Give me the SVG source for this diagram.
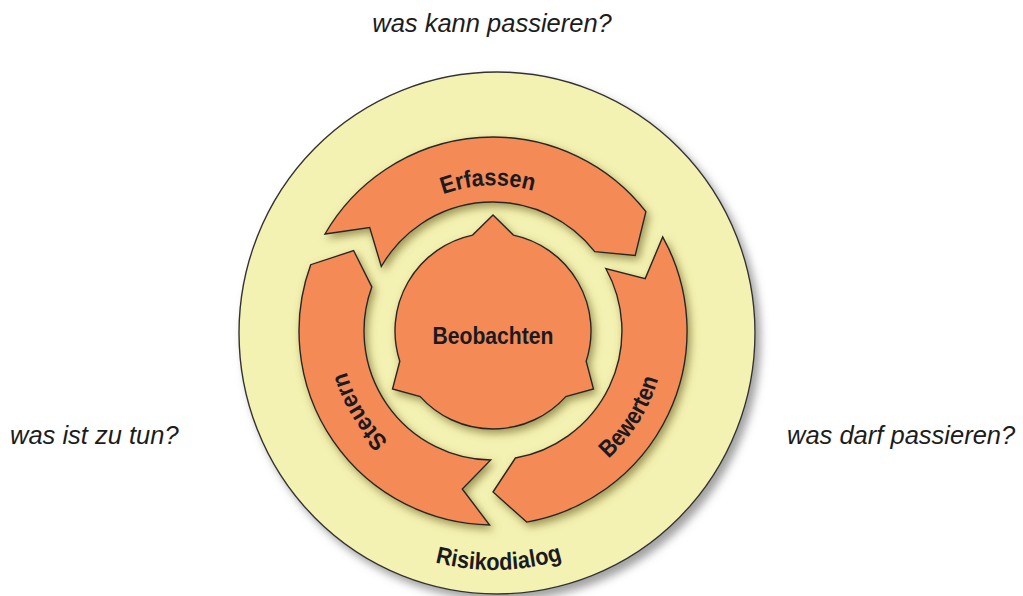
<svg xmlns="http://www.w3.org/2000/svg" width="1023" height="596" viewBox="0 0 1023 596">
  <style>
    .q { font-family: "Liberation Sans", Arial, sans-serif; font-style: italic; font-size: 25.5px; fill: #1c1c1c; }
    .lbl { font-family: "Liberation Sans", Arial, sans-serif; font-weight: bold; font-size: 24px; fill: #1a1a22; }
    .orange { fill: #F48A54; stroke: #262626; stroke-width: 1.4; stroke-linejoin: miter; }
    .disc { fill: #F4F2B2; stroke: #333; stroke-width: 1.4; }
  </style>
  <defs>
    <filter id="shOuter" x="-10%" y="-10%" width="125%" height="125%">
      <feGaussianBlur in="SourceAlpha" stdDeviation="4"/>
      <feOffset dx="5" dy="6" result="b"/>
      <feFlood flood-color="#7a7a7a" flood-opacity="0.7"/>
      <feComposite in2="b" operator="in"/>
      <feMerge><feMergeNode/><feMergeNode in="SourceGraphic"/></feMerge>
    </filter>
    <filter id="shOrange" x="-15%" y="-15%" width="135%" height="135%">
      <feGaussianBlur in="SourceAlpha" stdDeviation="4"/>
      <feOffset dx="3" dy="4" result="b"/>
      <feFlood flood-color="#6f6428" flood-opacity="0.65"/>
      <feComposite in2="b" operator="in"/>
      <feMerge><feMergeNode/><feMergeNode in="SourceGraphic"/></feMerge>
    </filter>
    <path id="pErf" d="M 396.2 222.4 A 146 146 0 0 1 582.3 215.6"/>
    <path id="pBew" d="M 546.1 494.6 A 172 172 0 0 0 663.3 307.1"/>
    <path id="pSte" d="M 443.5 474.7 A 152 152 0 0 1 342.9 307.2"/>
    <path id="pRis" d="M 341.7 514.5 A 237 237 0 0 0 646.3 514.5"/>
  </defs>

  <g id="questions">
    <text class="q" x="492" y="32" text-anchor="middle">was kann passieren?</text>
    <text class="q" x="10" y="444">was ist zu tun?</text>
    <text class="q" x="787" y="444">was darf passieren?</text>
  </g>

  <g id="risikodialog">
    <ellipse class="disc" cx="497" cy="333" rx="258" ry="261" filter="url(#shOuter)"/>
    <text class="lbl"><textPath href="#pRis" startOffset="51.5%" text-anchor="middle" textLength="129" lengthAdjust="spacingAndGlyphs">Risikodialog</textPath></text>
  </g>

  <g id="erfassen">
    <path class="orange" filter="url(#shOrange)" d="M 325.0 234.0 A 194 194 0 0 1 645.9 211.6 L 635.2 255.4 L 594.7 251.6 A 129 129 0 0 0 381.3 266.5 L 369.7 227.5 Z"/>
    <text class="lbl"><textPath href="#pErf" startOffset="50%" text-anchor="middle" textLength="92" lengthAdjust="spacingAndGlyphs">Erfassen</textPath></text>
  </g>

  <g id="bewerten">
    <path class="orange" filter="url(#shOrange)" d="M 662.7 236.9 A 194 194 0 0 1 526.7 522.1 L 493 492 L 515.4 458.0 A 129 129 0 0 0 605.8 268.5 L 645.2 278.6 Z"/>
    <text class="lbl"><textPath href="#pBew" startOffset="50%" text-anchor="middle" textLength="95" lengthAdjust="spacingAndGlyphs">Bewerten</textPath></text>
  </g>

  <g id="steuern">
    <path class="orange" filter="url(#shOrange)" d="M 489.6 525.0 A 194 194 0 0 1 310.7 264.7 L 353.6 250.5 L 371.8 286.9 A 129 129 0 0 0 490.7 460.0 L 462.3 489.0 Z"/>
    <text class="lbl"><textPath href="#pSte" startOffset="50%" text-anchor="middle" textLength="82" lengthAdjust="spacingAndGlyphs">Steuern</textPath></text>
  </g>

  <g id="beobachten">
    <path class="orange" filter="url(#shOrange)" d="M 513.4 235.1 A 98 98 0 0 1 586.2 361.3 L 593.5 389 L 565.8 396.6 A 98 98 0 0 1 420.2 396.6 L 392.5 389 L 399.8 361.3 A 98 98 0 0 1 472.6 235.1 L 493 215 Z"/>
    <text class="lbl" x="493" y="344" font-size="26" text-anchor="middle" textLength="121" lengthAdjust="spacingAndGlyphs">Beobachten</text>
  </g>
</svg>
